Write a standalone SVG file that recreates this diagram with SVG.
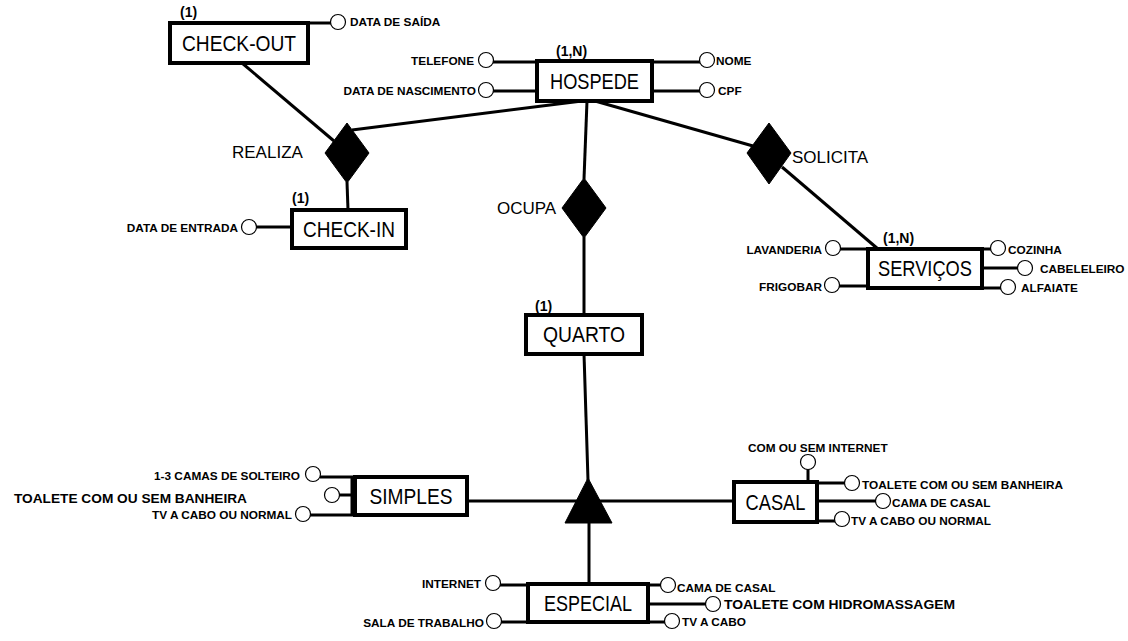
<svg xmlns="http://www.w3.org/2000/svg" width="1128" height="641" viewBox="0 0 1128 641">
<style>
.bg{fill:#fff}
.ent{fill:#fff;stroke:#000;stroke-width:4}
.rel{fill:#000;stroke:#000;stroke-width:1}
.ln{stroke:#000;stroke-width:3;fill:none}
.at{fill:#fff;stroke:#000;stroke-width:1.2}
.el{font-family:"Liberation Sans",Arial,sans-serif;font-size:22px;fill:#000;text-anchor:middle}
.rl{font-family:"Liberation Sans",Arial,sans-serif;font-size:17px;fill:#000}
.card{font-family:"Liberation Sans",Arial,sans-serif;font-size:14px;font-weight:bold;fill:#000}
.al{font-family:"Liberation Sans",Arial,sans-serif;font-size:11.8px;font-weight:bold;fill:#000}
.e{text-anchor:end}
</style>
<rect class="bg" x="0" y="0" width="1128" height="641"/>

<g id="connectors">
<line class="ln" x1="242" y1="63" x2="334" y2="141"/>
<line class="ln" x1="582" y1="101" x2="352" y2="130"/>
<line class="ln" x1="347" y1="182" x2="348" y2="210"/>
<line class="ln" x1="587" y1="101" x2="584" y2="179"/>
<line class="ln" x1="584" y1="237" x2="584" y2="315"/>
<line class="ln" x1="595" y1="101" x2="753" y2="146"/>
<line class="ln" x1="782" y1="167" x2="878" y2="249"/>
<line class="ln" x1="584" y1="354" x2="588" y2="480"/>
<line class="ln" x1="467" y1="501" x2="734" y2="501"/>
<line class="ln" x1="589" y1="522" x2="589" y2="584"/>
<!-- attribute links -->
<line class="ln" x1="308" y1="23" x2="331" y2="23"/>
<line class="ln" x1="256" y1="227" x2="292" y2="227"/>
<line class="ln" x1="493" y1="62" x2="537" y2="62"/>
<line class="ln" x1="652" y1="62" x2="700" y2="62"/>
<line class="ln" x1="493" y1="91" x2="537" y2="91"/>
<line class="ln" x1="652" y1="91" x2="700" y2="91"/>
<line class="ln" x1="840" y1="249" x2="868" y2="249"/>
<line class="ln" x1="839" y1="286" x2="868" y2="286"/>
<line class="ln" x1="982" y1="249" x2="991" y2="249"/>
<line class="ln" x1="982" y1="268" x2="1018" y2="268"/>
<line class="ln" x1="982" y1="288" x2="1001" y2="288"/>
<line class="ln" x1="320" y1="477" x2="354" y2="477"/>
<line class="ln" x1="339" y1="495" x2="354" y2="495"/>
<line class="ln" x1="310" y1="515" x2="354" y2="515"/>
<line class="ln" x1="352" y1="477" x2="352" y2="515"/>
<line class="ln" x1="808" y1="469" x2="808" y2="482"/>
<line class="ln" x1="817" y1="483" x2="845" y2="483"/>
<line class="ln" x1="817" y1="501" x2="876" y2="501"/>
<line class="ln" x1="817" y1="521" x2="835" y2="521"/>
<line class="ln" x1="500" y1="585" x2="528" y2="585"/>
<line class="ln" x1="501" y1="622" x2="528" y2="622"/>
<line class="ln" x1="648" y1="585" x2="661" y2="585"/>
<line class="ln" x1="648" y1="604" x2="706" y2="604"/>
<line class="ln" x1="648" y1="622" x2="665" y2="622"/>
</g>

<g id="checkout">
<rect class="ent" x="170" y="23" width="138" height="40"/>
<text class="el" x="239" y="51" textLength="114" lengthAdjust="spacingAndGlyphs">CHECK-OUT</text>
<text class="card" x="180" y="17">(1)</text>
</g>
<g id="attr-data-saida">
<circle class="at" cx="338" cy="22" r="7.5"/>
<text class="al" x="350" y="26">DATA DE SAÍDA</text>
</g>

<g id="hospede">
<rect class="ent" x="537" y="61" width="115" height="40"/>
<text class="el" x="594.5" y="89" textLength="89" lengthAdjust="spacingAndGlyphs">HOSPEDE</text>
<text class="card" x="556" y="56">(1,N)</text>
</g>
<g id="attr-telefone">
<circle class="at" cx="486" cy="60" r="7.5"/>
<text class="al e" x="474" y="65">TELEFONE</text>
</g>
<g id="attr-nome">
<circle class="at" cx="707" cy="60" r="7.5"/>
<text class="al" x="716" y="65">NOME</text>
</g>
<g id="attr-nascimento">
<circle class="at" cx="486" cy="90" r="7.5"/>
<text class="al e" x="476" y="95">DATA DE NASCIMENTO</text>
</g>
<g id="attr-cpf">
<circle class="at" cx="707" cy="90" r="7.5"/>
<text class="al" x="718" y="95">CPF</text>
</g>

<g id="realiza">
<polygon class="rel" points="347,123 369,153 347,183 325,153"/>
<text class="rl" x="232" y="158">REALIZA</text>
</g>

<g id="checkin">
<rect class="ent" x="292" y="210" width="114" height="38"/>
<text class="el" x="349" y="237" textLength="92" lengthAdjust="spacingAndGlyphs">CHECK-IN</text>
<text class="card" x="292" y="203">(1)</text>
</g>
<g id="attr-data-entrada">
<circle class="at" cx="249" cy="227" r="7.5"/>
<text class="al e" x="238" y="232">DATA DE ENTRADA</text>
</g>

<g id="ocupa">
<polygon class="rel" points="584,178 606,208 584,238 562,208"/>
<text class="rl" x="497" y="214">OCUPA</text>
</g>

<g id="solicita">
<polygon class="rel" points="769,123 791,153 769,184 747,153"/>
<text class="rl" x="792" y="163">SOLICITA</text>
</g>

<g id="servicos">
<rect class="ent" x="868" y="249" width="114" height="39"/>
<text class="el" x="925" y="276" textLength="94" lengthAdjust="spacingAndGlyphs">SERVIÇOS</text>
<text class="card" x="883" y="243">(1,N)</text>
</g>
<g id="attr-lavanderia">
<circle class="at" cx="833" cy="248" r="7.5"/>
<text class="al e" x="822" y="254">LAVANDERIA</text>
</g>
<g id="attr-frigobar">
<circle class="at" cx="832" cy="285" r="7.5"/>
<text class="al e" x="822" y="291">FRIGOBAR</text>
</g>
<g id="attr-cozinha">
<circle class="at" cx="998" cy="248" r="7.5"/>
<text class="al" x="1008" y="254">COZINHA</text>
</g>
<g id="attr-cabeleleiro">
<circle class="at" cx="1025" cy="268" r="7.5"/>
<text class="al" x="1040" y="273">CABELELEIRO</text>
</g>
<g id="attr-alfaiate">
<circle class="at" cx="1008" cy="287" r="7.5"/>
<text class="al" x="1021" y="292">ALFAIATE</text>
</g>

<g id="quarto">
<rect class="ent" x="526" y="315" width="116" height="39"/>
<text class="el" x="584" y="342" textLength="82" lengthAdjust="spacingAndGlyphs">QUARTO</text>
<text class="card" x="535" y="311">(1)</text>
</g>

<g id="especializacao">
<polygon class="rel" points="588,478 612,523 565,523"/>
</g>

<g id="simples">
<rect class="ent" x="355" y="477" width="112" height="38"/>
<text class="el" x="411" y="504" textLength="83" lengthAdjust="spacingAndGlyphs">SIMPLES</text>
</g>
<g id="attr-simples-camas">
<circle class="at" cx="313" cy="474" r="7.5"/>
<text class="al e" x="300" y="480">1-3 CAMAS DE SOLTEIRO</text>
</g>
<g id="attr-simples-toalete">
<circle class="at" cx="332" cy="495" r="7.5"/>
<text class="al" x="14" y="503" style="font-size:12.4px" textLength="233" lengthAdjust="spacingAndGlyphs">TOALETE COM OU SEM BANHEIRA</text>
</g>
<g id="attr-simples-tv">
<circle class="at" cx="303" cy="514" r="7.5"/>
<text class="al e" x="292" y="519">TV A CABO OU NORMAL</text>
</g>

<g id="casal">
<rect class="ent" x="734" y="482" width="83" height="40"/>
<text class="el" x="775.5" y="510" textLength="60" lengthAdjust="spacingAndGlyphs">CASAL</text>
</g>
<g id="attr-casal-internet">
<circle class="at" cx="808" cy="462" r="7.5"/>
<text class="al" x="748" y="452">COM OU SEM INTERNET</text>
</g>
<g id="attr-casal-toalete">
<circle class="at" cx="852" cy="483" r="7.5"/>
<text class="al" x="862" y="489">TOALETE COM OU SEM BANHEIRA</text>
</g>
<g id="attr-casal-cama">
<circle class="at" cx="883" cy="501" r="7.5"/>
<text class="al" x="892" y="507">CAMA DE CASAL</text>
</g>
<g id="attr-casal-tv">
<circle class="at" cx="842" cy="519" r="7.5"/>
<text class="al" x="851" y="525">TV A CABO OU NORMAL</text>
</g>

<g id="especial">
<rect class="ent" x="528" y="584" width="120" height="38"/>
<text class="el" x="588" y="611" textLength="88" lengthAdjust="spacingAndGlyphs">ESPECIAL</text>
</g>
<g id="attr-especial-internet">
<circle class="at" cx="493" cy="583" r="7.5"/>
<text class="al e" x="481" y="588">INTERNET</text>
</g>
<g id="attr-especial-sala">
<circle class="at" cx="494" cy="621" r="7.5"/>
<text class="al e" x="484" y="627">SALA DE TRABALHO</text>
</g>
<g id="attr-especial-cama">
<circle class="at" cx="668" cy="585" r="7.5"/>
<text class="al" x="677" y="592">CAMA DE CASAL</text>
</g>
<g id="attr-especial-toalete">
<circle class="at" cx="713" cy="604" r="7.5"/>
<text class="al" x="724" y="609" style="font-size:12.4px" textLength="231" lengthAdjust="spacingAndGlyphs">TOALETE COM HIDROMASSAGEM</text>
</g>
<g id="attr-especial-tv">
<circle class="at" cx="672" cy="621" r="7.5"/>
<text class="al" x="682" y="626">TV A CABO</text>
</g>
</svg>
